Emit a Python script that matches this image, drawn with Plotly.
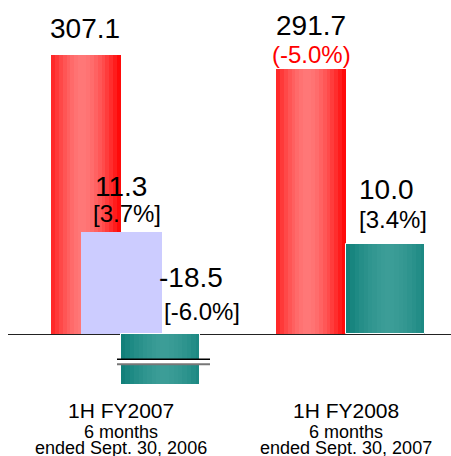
import plotly.graph_objects as go

# ---- data ----
categories = ["1H FY2007", "1H FY2008"]
category_sub1 = ["6 months", "6 months"]
category_sub2 = ["ended Sept. 30, 2006", "ended Sept. 30, 2007"]

sales = [307.1, 291.7]
sales_labels = ["307.1", "291.7"]
sales_change = [None, "(-5.0%)"]

income_a = [11.3]           # lavender bar, FY2007 only
income_a_labels = ["11.3"]
income_a_ratio = ["[3.7%]"]

income_b = [-18.5, 10.0]    # teal bars
income_b_labels = ["-18.5", "10.0"]
income_b_ratio = ["[-6.0%]", "[3.4%]"]

xpos = [0, 1]

# ---- layout geometry (pixels) ----
W, H = 451, 456
ML, MR, MT, MB = 8, 0, 0, 72
PW, PH = W - ML - MR, H - MT - MB
PX_PER_X = 225.0
X0_PX = 113.0                       # px of x=0 inside plot
ZERO_FROM_BOTTOM = 50.0
ppu1 = 279.0 / 307.1                # px per unit, primary axis
ppu2 = 9.0                          # px per unit, secondary axis (broken scale)

RED_OFF, RED_W = -0.311, 0.311
LAV_OFF, LAV_W = -0.178, 0.36
TEAL_OFF, TEAL_W = 0.0, 0.351

FONT = "Liberation Sans, Arial, sans-serif"


def mix(c1, c2, t):
    return "rgb(%d,%d,%d)" % tuple(round(a + (b - a) * t) for a, b in zip(c1, c2))


def gradient_traces(x, y, off, width, edge, light, peak, yaxis, n=18):
    traces = []
    for i in range(n):
        s = (i + 0.5) / n
        d = abs(s - peak) / max(peak, 1 - peak)
        t = max(0.0, 1 - d ** 1.6)
        traces.append(go.Bar(
            x=x, y=y, yaxis=yaxis,
            offset=off + i * width / n, width=width / n + 0.002,
            marker=dict(color=mix(edge, light, t), line=dict(width=0)),
            showlegend=False, hoverinfo="skip"))
    return traces


fig = go.Figure()

for tr in gradient_traces(xpos, sales, RED_OFF, RED_W, (255, 0, 0), (255, 120, 120), 0.45, "y"):
    fig.add_trace(tr)

fig.add_trace(go.Bar(x=xpos[:1], y=income_a, yaxis="y2", offset=LAV_OFF, width=LAV_W,
                     marker=dict(color="#ccccff", line=dict(width=0)),
                     showlegend=False, hoverinfo="skip"))

for tr in gradient_traces(xpos, income_b, TEAL_OFF, TEAL_W, (13, 126, 120), (60, 157, 151), 0.55, "y2"):
    fig.add_trace(tr)
fig.add_trace(go.Bar(x=xpos, y=income_b, yaxis="y2", offset=TEAL_OFF, width=TEAL_W,
                     marker=dict(color="rgba(0,0,0,0)", line=dict(width=1, color="white")),
                     showlegend=False, hoverinfo="skip"))

# ---- annotations ----
ann = []


def label(text, x, y, yref, dx, dy, size, color="black"):
    ann.append(dict(text=text, x=x, y=y, xref="x", yref=yref, xshift=dx, yshift=dy,
                    showarrow=False, xanchor="center", yanchor="middle",
                    font=dict(family=FONT, size=size, color=color)))


red_c = RED_OFF + RED_W / 2
for i, v in enumerate(sales):
    if sales_change[i]:
        label(sales_labels[i], xpos[i] + red_c, v, "y", 0, 43, 28)
        label(sales_change[i], xpos[i] + red_c, v, "y", 0, 14, 24, "red")
    else:
        label(sales_labels[i], xpos[i] + red_c, v, "y", -1, 27, 28)

lav_c = LAV_OFF + LAV_W / 2
label(income_a_labels[0], xpos[0] + lav_c, income_a[0], "y2", 0, 46, 28)
label(income_a_ratio[0], xpos[0] + lav_c, income_a[0], "y2", 6, 19, 24)

teal_c = TEAL_OFF + TEAL_W / 2
# negative bar: labels sit above zero line to the right of lavender bar
label(income_b_labels[0], xpos[0] + teal_c, 0, "y2", 31, 57, 28)
label(income_b_ratio[0], xpos[0] + teal_c, 0, "y2", 42, 23, 24)
label(income_b_labels[1], xpos[1] + teal_c, income_b[1], "y2", 1, 55, 28)
label(income_b_ratio[1], xpos[1] + teal_c, income_b[1], "y2", 8, 25, 24)

for i, c in enumerate(categories):
    ann.append(dict(text=c, x=xpos[i], y=0, xref="x", yref="paper", yshift=-26,
                    showarrow=False, xanchor="center", yanchor="middle",
                    font=dict(family=FONT, size=21, color="black")))
    ann.append(dict(text=category_sub1[i], x=xpos[i], y=0, xref="x", yref="paper", yshift=-48,
                    showarrow=False, xanchor="center", yanchor="middle",
                    font=dict(family=FONT, size=18, color="black")))
    ann.append(dict(text=category_sub2[i], x=xpos[i], y=0, xref="x", yref="paper", yshift=-64,
                    showarrow=False, xanchor="center", yanchor="middle",
                    font=dict(family=FONT, size=18, color="black")))

# ---- axis break marks on the truncated negative bar ----
bx0, bx1 = -4 / PX_PER_X, 89 / PX_PER_X
shapes = [
    dict(type="rect", xref="x", yref="y2", x0=bx0, x1=bx1, y0=-30.0 / ppu2, y1=-25.5 / ppu2,
         fillcolor="white", line=dict(width=0), layer="above"),
    dict(type="line", xref="x", yref="y2", x0=bx0, x1=bx1, y0=-25.3 / ppu2, y1=-25.3 / ppu2,
         line=dict(color="black", width=1.5), layer="above"),
    dict(type="line", xref="x", yref="y2", x0=bx0, x1=bx1, y0=-30.2 / ppu2, y1=-30.2 / ppu2,
         line=dict(color="#777777", width=2), layer="above"),
]

fig.update_layout(
    width=W, height=H,
    margin=dict(l=ML, r=MR, t=MT, b=MB, pad=0),
    paper_bgcolor="white", plot_bgcolor="white",
    barmode="overlay", bargap=0,
    showlegend=False,
    xaxis=dict(range=[-X0_PX / PX_PER_X, (PW - X0_PX) / PX_PER_X], showticklabels=False,
               showgrid=False, zeroline=False, showline=False, ticks="", fixedrange=True),
    yaxis=dict(range=[-ZERO_FROM_BOTTOM / ppu1, (PH - ZERO_FROM_BOTTOM) / ppu1],
               showticklabels=False, showgrid=False, zeroline=True, zerolinecolor="#222222",
               zerolinewidth=1, showline=False, ticks=""),
    yaxis2=dict(range=[-ZERO_FROM_BOTTOM / ppu2, (PH - ZERO_FROM_BOTTOM) / ppu2],
                overlaying="y", showticklabels=False, showgrid=False, zeroline=False,
                showline=False, ticks=""),
    annotations=ann,
    shapes=shapes,
)

fig.write_html("out.html")
